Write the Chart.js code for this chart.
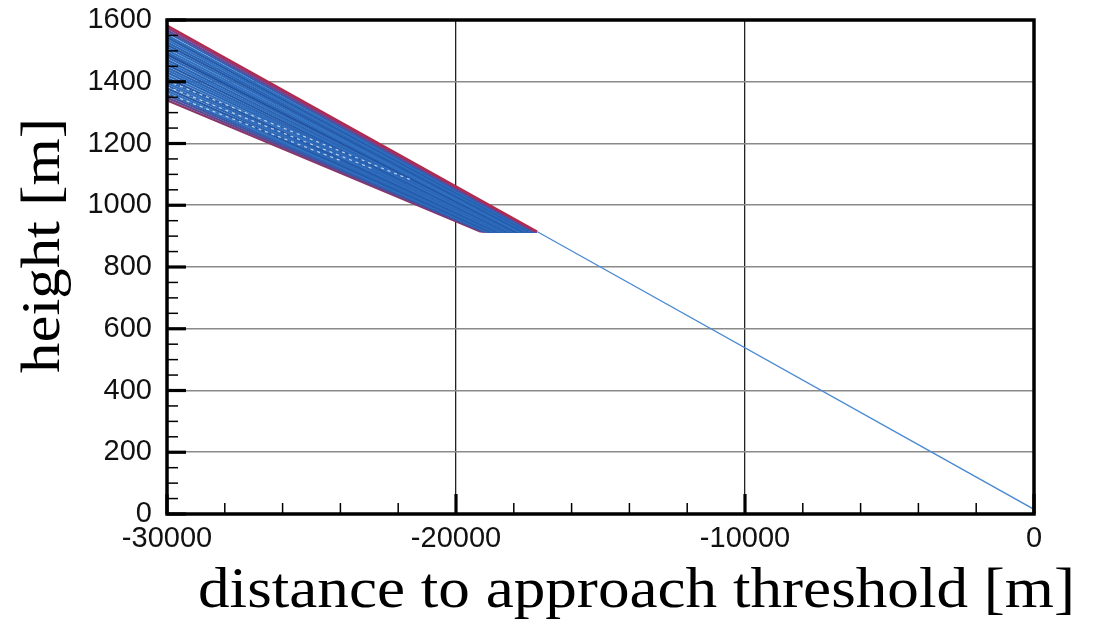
<!DOCTYPE html>
<html><head><meta charset="utf-8">
<script src="https://cdn.jsdelivr.net/npm/chart.js@4.4.1/dist/chart.umd.min.js"></script>
<style>html,body{margin:0;padding:0;background:#fff;overflow:hidden}</style>
</head><body>
<canvas id="c" width="1094" height="621"></canvas>
<script>
// ---- data ----
const xTickValues = [-30000, -20000, -10000, 0];
const yTickValues = [0, 200, 400, 600, 800, 1000, 1200, 1400, 1600];
const startDistance = -30000;
const startHeights = [1582, 1575, 1567, 1560, 1551, 1544, 1536, 1528, 1520, 1512, 1503, 1495, 1488, 1480, 1471, 1463, 1455, 1446, 1438, 1430, 1421, 1412, 1404, 1396, 1388, 1379, 1371, 1363, 1356, 1348, 1340];
const levelOffDistances = [-17200, -17260, -17320, -17380, -17450, -17510, -17570, -17640, -17700, -17770, -17840, -17910, -17960, -18030, -18100, -18170, -18230, -18310, -18370, -18440, -18510, -18580, -18650, -18710, -18780, -18850, -18920, -18980, -19040, -19100, -19170];
const levelHeight = 915;
const interceptDistance = -17200;
const thresholdDistance = 0;
const thresholdHeight = 15;
const fanColors = ['#b02a4e', '#8a3a7c', '#5c4b9c', '#2a64b4', '#2f6cbc', '#2459a8', '#3070c0', '#2a64b4', '#2459a8', '#2f6cbc', '#3070c0', '#2a64b4', '#1f4f9c', '#2f6cbc', '#2a64b4', '#3070c0', '#2459a8', '#2a64b4', '#2f6cbc', '#2a64b4', '#3070c0', '#2459a8', '#2a64b4', '#2f6cbc', '#2a64b4', '#2459a8', '#3070c0', '#2a64b4', '#3f55a4', '#5e4690', '#8a3668'];
// faint light streaks inside the bundle
const streakStartHeights = [1403, 1384, 1362];
const streakEndDistances = [-21500, -22800, -24000];
const streakEndHeights = [1080, 1115, 1145];
const glideColor = '#4a8ad2';

// ---- build datasets ----
const datasets = [];
datasets.push({
  data: [{x: interceptDistance, y: levelHeight}, {x: thresholdDistance, y: thresholdHeight}],
  borderColor: glideColor, borderWidth: 1.3, showLine: true, pointRadius: 0, fill: false
});
for (let i = 0; i < streakStartHeights.length; i++) {
  datasets.push({
    data: [{x: startDistance, y: streakStartHeights[i]}, {x: streakEndDistances[i], y: streakEndHeights[i]}],
    borderColor: 'rgba(225,235,250,0.8)', borderWidth: 1.2, borderDash: [3, 4],
    showLine: true, pointRadius: 0, fill: false
  });
}
for (let i = 0; i < startHeights.length; i++) {
  datasets.push({
    data: [{x: startDistance, y: startHeights[i]}, {x: levelOffDistances[i], y: levelHeight}, {x: interceptDistance, y: levelHeight}],
    borderColor: fanColors[i], borderWidth: 2.2, showLine: true, pointRadius: 0, fill: false
  });
}

const SANS = "'Liberation Sans', Arial, sans-serif";
const SERIF = "'Liberation Serif', 'Times New Roman', serif";

const framePlugin = {
  id: 'frame',
  afterDatasetsDraw(chart) {
    const {ctx, chartArea: a, scales: {x, y}} = chart;
    ctx.save();
    ctx.strokeStyle = '#000';
    ctx.lineWidth = 1.5;
    for (let v = -30000; v <= 0; v += 2000) {
      const px = x.getPixelForValue(v);
      ctx.beginPath(); ctx.moveTo(px, a.bottom); ctx.lineTo(px, a.bottom - 11); ctx.stroke();
    }
    for (let v = 0; v <= 1600; v += 50) {
      const py = y.getPixelForValue(v);
      ctx.beginPath(); ctx.moveTo(a.left, py); ctx.lineTo(a.left + 11, py); ctx.stroke();
    }
    ctx.lineWidth = 3.2;
    xTickValues.forEach(v => {
      const px = x.getPixelForValue(v);
      ctx.beginPath(); ctx.moveTo(px, a.bottom); ctx.lineTo(px, a.bottom - 20); ctx.stroke();
    });
    yTickValues.forEach(v => {
      const py = y.getPixelForValue(v);
      ctx.beginPath(); ctx.moveTo(a.left, py); ctx.lineTo(a.left + 19, py); ctx.stroke();
    });
    ctx.lineWidth = 3.5;
    ctx.strokeRect(a.left, a.top, a.right - a.left, a.bottom - a.top);
    ctx.restore();
  },
  afterDraw(chart) {
    const ctx = chart.ctx;
    ctx.save();
    ctx.fillStyle = '#000';
    ctx.textBaseline = 'alphabetic';
    ctx.textAlign = 'left';
    ctx.font = '57px ' + SERIF;
    let t = 'distance to approach threshold [m]';
    let w = ctx.measureText(t).width;
    ctx.save();
    ctx.translate(198, 607);
    ctx.scale(877 / w, 1);
    ctx.fillText(t, 0, 0);
    ctx.restore();
    ctx.font = '55px ' + SERIF;
    t = 'height [m]';
    w = ctx.measureText(t).width;
    ctx.save();
    ctx.translate(59, 373);
    ctx.rotate(-Math.PI / 2);
    ctx.scale(255 / w, 1);
    ctx.fillText(t, 0, 0);
    ctx.restore();
    ctx.restore();
  }
};

new Chart(document.getElementById('c'), {
  type: 'scatter',
  data: {datasets},
  options: {
    responsive: false,
    animation: false,
    layout: {padding: {top: 20, right: 60, left: 0, bottom: 0}},
    plugins: {legend: {display: false}, tooltip: {enabled: false}},
    scales: {
      x: {
        type: 'linear', min: -30000, max: 0,
        afterBuildTicks: s => { s.ticks = xTickValues.map(v => ({value: v})); },
        afterFit: s => { s.height = 107; s.paddingLeft = 0; s.paddingRight = 0; },
        ticks: {color: '#111', font: {family: SANS, size: 29}, padding: 8, maxRotation: 0, autoSkip: false,
          callback: v => String(v)},
        grid: {color: '#222', lineWidth: 1.3, drawTicks: false},
        border: {display: false}
      },
      y: {
        type: 'linear', min: 0, max: 1600,
        afterBuildTicks: s => { s.ticks = yTickValues.map(v => ({value: v})); },
        afterFit: s => { s.width = 167; s.paddingTop = 0; s.paddingBottom = 0; },
        ticks: {color: '#111', font: {family: SANS, size: 29}, padding: 15, autoSkip: false,
          callback: v => String(v)},
        grid: {color: '#8a8a8a', lineWidth: 1.6, drawTicks: false},
        border: {display: false}
      }
    }
  },
  plugins: [framePlugin]
});
</script>
</body></html>
